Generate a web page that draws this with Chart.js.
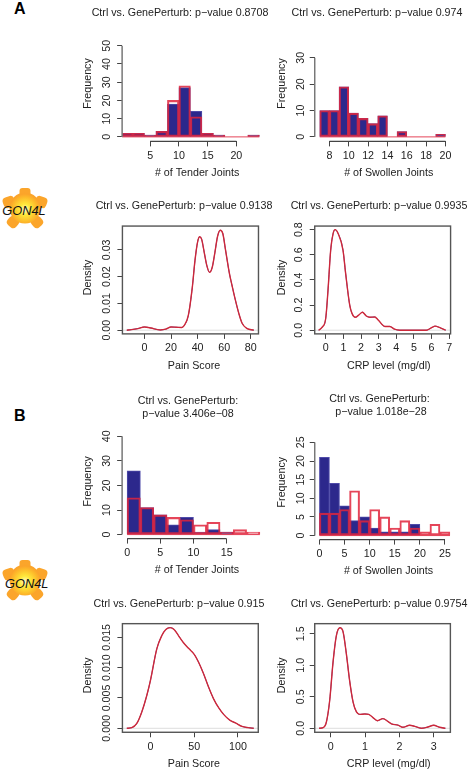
<!DOCTYPE html>
<html><head><meta charset="utf-8">
<style>
html,body{margin:0;padding:0;background:#fff;width:470px;height:772px;overflow:hidden;position:relative}
canvas{position:absolute}
.letter{position:absolute;font:bold 16px "Liberation Sans",Arial,sans-serif;color:#000}
.gene{position:absolute;left:0;width:60px;height:60px}
</style>
<script src="https://cdn.jsdelivr.net/npm/chart.js@4/dist/chart.umd.min.js"></script>
</head><body>
<div class="letter" style="left:14px;top:0px">A</div>
<div class="letter" style="left:14px;top:407px">B</div>
<svg class="gene" style="top:178px" viewBox="0 0 60 60"><use href="#sun"/><text x="24" y="36.5" font-family="Liberation Sans" font-style="italic" font-size="12.8" text-anchor="middle" fill="#111">GON4L</text></svg>
<svg class="gene" style="top:550px" viewBox="0 0 60 60"><use href="#sun"/><text x="26.7" y="37.5" font-family="Liberation Sans" font-style="italic" font-size="12.8" text-anchor="middle" fill="#111">GON4L</text></svg>
<svg width="0" height="0" style="position:absolute"><defs>
<radialGradient id="g" cx="50%" cy="55%" r="50%"><stop offset="0" stop-color="#fffbd0"/><stop offset=".35" stop-color="#ffe93a"/><stop offset=".8" stop-color="#fdb92a"/><stop offset="1" stop-color="#fba42a"/></radialGradient>
<g id="sun">
<g fill="#fba52b"><rect x="19.5" y="10" width="11" height="12" rx="3"/><rect x="3" y="18.5" width="12" height="11" rx="4" transform="rotate(-20 9 24)"/><rect x="35" y="18.5" width="12" height="11" rx="4" transform="rotate(20 41 24)"/><rect x="7.5" y="38.5" width="11" height="11" rx="4" transform="rotate(40 13 44)"/><rect x="31.5" y="38.5" width="11" height="11" rx="4" transform="rotate(-40 37 44)"/></g>
<circle cx="25" cy="30" r="15.5" fill="url(#g)"/></g></defs></svg>

<script>
// ---------- Panel A ----------
const tenderA_bins   = [1, 3, 5, 7, 9, 11, 13, 15, 17, 19, 21, 23];
const tenderA_ctrl   = [2, 2, 1, 3, 18, 27, 14, 2, 1, 0, 0, 1];
const tenderA_pert   = [2, 2, 1, 3, 20, 28, 11, 2, 1, 0, 0, 1];
const tenderA_xticks = ['5', '10', '15', '20'];
const tenderA_yticks = ['0', '10', '20', '30', '40', '50'];

const swollenA_bins   = [7.5, 8.5, 9.5, 10.5, 11.5, 12.5, 13.5, 14.5, 15.5, 16.5, 17.5, 18.5, 19.5];
const swollenA_ctrl   = [10, 10, 19, 9, 7, 5, 8, 0, 2, 0, 0, 0, 1];
const swollenA_pert   = [10, 10, 19, 9, 7, 5, 8, 0, 2, 0, 0, 0, 1];
const swollenA_xticks = ['8', '10', '12', '14', '16', '18', '20'];
const swollenA_yticks = ['0', '10', '20', '30'];

const painA_x = [-13.3, -10, -5, 0, 5, 10, 12, 16, 20, 24, 28, 30, 33, 36, 38, 40, 41.5, 43, 45, 47, 49, 51, 53, 55, 57, 59, 61, 64, 66, 68.4, 71, 73.5, 77, 82.3];
const painA_y = [0, .0002, .0006, .0012, .0008, .0002, .0001, .0004, .0012, .0011, .0010, .0018, .0055, .016, .026, .033, .0349, .034, .029, .024, .0216, .0235, .029, .035, .0373, .036, .030, .021, .0165, .0113, .0063, .0026, .0007, 0];
const painA_xticks = ['0', '20', '40', '60', '80'];
const painA_yticks = ['0.00', '0.01', '0.02', '0.03'];

const crpA_x = [-.4, -.2, 0, .13, .28, .42, .53, .7, .98, 1.13, 1.36, 1.5, 1.68, 1.87, 2.08, 2.3, 2.5, 2.78, 2.97, 3.35, 3.63, 3.9, 4.2, 5.7, 6, 6.2, 6.47, 6.8];
const crpA_y = [0, .024, .095, .32, .636, .77, .80, .77, .636, .45, .2, .13, .103, .12, .143, .113, .103, .105, .082, .03, .03, .008, 0, 0, .02, .032, .02, 0];
const crpA_xticks = ['0', '1', '2', '3', '4', '5', '6', '7'];
const crpA_yticks = ['0.0', '0.2', '0.4', '0.6', '0.8'];

// ---------- Panel B ----------
const tenderB_bins   = [1, 3, 5, 7, 9, 11, 13, 15, 17, 19];
const tenderB_ctrl   = [26, 11, 8, 4, 7, 1, 2, 1, 0, 0];
const tenderB_pert   = [15, 11, 8, 7, 6, 4, 5, 1, 2, 1];
const tenderB_xticks = ['0', '5', '10', '15'];
const tenderB_yticks = ['0', '10', '20', '30', '40'];

const swollenB_bins   = [1, 3, 5, 7, 9, 11, 13, 15, 17, 19, 21, 23, 25];
const swollenB_ctrl   = [21, 14, 8, 4, 5, 2, 1, 1, 1, 3, 0, 0, 0];
const swollenB_pert   = [6, 6, 7, 12, 4, 7, 5, 2, 4, 2, 1, 3, 1];
const swollenB_xticks = ['0', '5', '10', '15', '20', '25'];
const swollenB_yticks = ['0', '5', '10', '15', '20', '25'];

const painB_x = [-27, -21.4, -15.6, -9.9, -4.2, 0, 7.25, 13, 17.6, 22.5, 27, 32, 37.8, 43.5, 50, 55, 60.7, 66.4, 72, 77.9, 83.6, 91, 97, 104.6, 112, 118];
const painB_y = [0, .0001, .0008, .0027, .0054, .0079, .0131, .0153, .0163, .0166, .0163, .0153, .0141, .0132, .0122, .0109, .009, .0068, .0049, .0034, .0023, .0013, .0009, .0003, .0001, 0];
const painB_xticks = ['0', '50', '100'];
const painB_yticks = ['0.000', '0.005', '0.010', '0.015'];

const crpB_x = [-.34, -.22, -.126, -.03, .068, .165, .27, .36, .456, .55, .65, .75, .845, .99, 1.107, 1.23, 1.36, 1.52, 1.62, 1.77, 1.96, 2.1, 2.3, 2.45, 2.64, 2.83, 3, 3.17, 3.34];
const crpB_y = [0, .01, .1, .44, 1.05, 1.47, 1.595, 1.53, 1.18, .76, .42, .26, .22, .227, .22, .17, .12, .153, .127, .07, .05, .016, .048, .03, 0, .02, .048, .016, 0];
const crpB_xticks = ['0', '1', '2', '3'];
const crpB_yticks = ['0.0', '0.5', '1.0', '1.5'];

// ---------- Shared style ----------
const FONT = '"Liberation Sans", Arial, sans-serif';
const FS = 10.7, LH = 1.19;
const NAVY = 'rgb(44,40,140)', RED = 'rgba(224,36,60,0.85)', INK = '#222';

const rStyle = {
  id: 'rStyle',
  afterLayout(c) {
    const g = c.options.plugins.rStyle, x = c.scales.x, y = c.scales.y;
    // native titles sit where the reference places them, off the plot centre
    c.titleBlock.right = c.width;
    if (!x._shifted) {
      x._shifted = true;
      const dx = x.drawTitle, dy = y.drawTitle;
      x.drawTitle = function () { const r = x.right; x.right += 2 * g.xTitleDx; dx.call(x); x.right = r; };
      y.drawTitle = function () { const t = y.top; y.top += 2 * g.yTitleDy; dy.call(y); y.top = t; };
    }
  },
  beforeDraw(c) {
    c.scales.y.getLabelItems().forEach(it => { it.options.textAlign = 'center'; });
  },
  afterDraw(c) {
    const g = c.options.plugins.rStyle, x = c.scales.x, y = c.scales.y, a = c.chartArea, k = c.ctx;
    k.save();
    if (g.box) {
      k.strokeStyle = '#555'; k.lineWidth = 1.4;
      k.strokeRect(a.left, a.top, a.right - a.left, a.bottom - a.top);
    } else {
      k.strokeStyle = '#777'; k.lineWidth = 1.5;
      const yt = y.ticks, xt = x.ticks;
      k.beginPath();
      k.moveTo(a.left, y.getPixelForValue(yt[0].value));
      k.lineTo(a.left, y.getPixelForValue(yt[yt.length - 1].value));
      k.stroke();
      k.strokeStyle = '#444'; k.lineWidth = 1.1;
      k.beginPath();
      k.moveTo(x.getPixelForValue(xt[0].value), a.bottom);
      k.lineTo(x.getPixelForValue(xt[xt.length - 1].value), a.bottom);
      k.stroke();
    }
    k.restore();
  }
};

function axis(labels, min, max, o) {
  return Object.assign({
    type: 'linear', min, max, bounds: 'data', offset: false,
    grid: { display: true, offset: false, drawOnChartArea: false, drawTicks: true, tickLength: 5, tickColor: '#444', tickWidth: 1 },
    border: { display: false },
    afterBuildTicks: s => { s.ticks = labels.map(t => ({ value: Number(t) })); },
    ticks: { color: INK, font: { family: FONT, size: FS }, autoSkip: false, maxRotation: 0, minRotation: 0, padding: 4,
      callback: (v, i) => labels[i] }
  }, o);
}

function panel(p) {
  const cv = document.createElement('canvas');
  const L = p.yTitleX - FS * 0.6, n = p.title.length, titleH = n * FS * LH;
  const T = p.titleY - FS * LH / 2;
  const W = 2 * (p.titleCx - L);
  const B = p.xTitleY + FS * 0.6;
  cv.style.left = L + 'px'; cv.style.top = T + 'px';
  cv.width = Math.round(W); cv.height = Math.round(B - T);
  document.body.appendChild(cv);
  const xs = axis(p.xticks, p.xmin, p.xmax, {
    title: { display: true, text: p.xTitle, color: INK, font: { family: FONT, size: FS }, padding: 0 },
    afterFit: s => { s.height = B - p.bottom; }
  });
  xs.ticks.padding = 3;
  const ys = axis(p.yticks, p.ymin, p.ymax, {
    title: { display: true, text: p.yTitle, color: INK, font: { family: FONT, size: FS }, padding: 0 },
    afterFit: s => { s.width = p.left - L; }
  });
  ys.ticks.minRotation = 90; ys.ticks.maxRotation = 90;
  ys.ticks.padding = p.yTickPad;
  new Chart(cv, {
    data: { datasets: p.datasets },
    plugins: [rStyle],
    options: {
      responsive: false, animation: false, devicePixelRatio: 1,
      layout: { padding: { left: 0, top: 0, bottom: 0, right: L + W - p.right } },
      scales: { x: xs, y: ys },
      plugins: {
        legend: { display: false }, tooltip: { enabled: false },
        title: { display: true, text: p.title, color: INK,
          font: { family: FONT, size: FS, weight: 'normal', lineHeight: LH },
          padding: { top: 0, bottom: p.top - T - titleH } },
        rStyle: { box: !!p.box, xTitleDx: p.xTitleCx - (p.left + p.right) / 2, yTitleDy: p.yTitleCy - (p.top + p.bottom) / 2 }
      }
    }
  });
}

const pts = (xs, ys) => xs.map((x, i) => ({ x, y: ys[i] }));

function hist(bins, ctrl, pert, span) {
  const bar = { type: 'bar', grouped: false, barPercentage: 1, categoryPercentage: 1, borderSkipped: false };
  return [
    Object.assign({}, bar, { label: 'Ctrl', data: pts(bins, ctrl), backgroundColor: NAVY, borderColor: 'rgba(60,55,160,0.9)', borderWidth: 1, order: 3 }),
    Object.assign({}, bar, { label: 'GenePerturb', data: pts(bins, pert), backgroundColor: 'rgba(0,0,0,0)', borderColor: RED, borderWidth: 1.4, order: 2 }),
    { type: 'line', label: 'base', data: [{ x: span[0], y: 0 }, { x: span[1], y: 0 }], borderColor: RED, borderWidth: 1, pointRadius: 0, order: 1 }
  ];
}

function dens(xs, ys) {
  const line = { type: 'line', pointRadius: 0, cubicInterpolationMode: 'monotone', fill: false };
  return [
    { type: 'line', label: 'zero', data: [{ x: xs[0] - 100, y: 0 }, { x: xs[xs.length - 1] + 100, y: 0 }], borderColor: '#ddd', borderWidth: 1, pointRadius: 0, order: 3 },
    Object.assign({}, line, { label: 'Ctrl', data: pts(xs, ys), borderColor: 'rgb(60,40,130)', borderWidth: 0.9, order: 2 }),
    Object.assign({}, line, { label: 'GenePerturb', data: pts(xs, ys), borderColor: 'rgba(214,36,50,0.92)', borderWidth: 1.4, order: 1 })
  ];
}

// value at a pixel distance: scale ranges come from the tick calibration
function rng(v0, px0, pxPer, pxA, pxB) { return [v0 + (pxA - px0) / pxPer, v0 + (pxB - px0) / pxPer]; }

const T_A = 'Ctrl vs. GenePerturb: p\u2212value ';

{ // A: tender
  const [xmin, xmax] = rng(5, 150, 5.73, 122, 262);
  const [ymin, ymax] = [-(141.5 - 137) / 1.826, 50];
  panel({ title: [T_A + '0.8708'], titleCx: 179.7, titleY: 13.3, xTitle: '# of Tender Joints', xTitleCx: 196.8, xTitleY: 172.7,
    yTitle: 'Frequency', yTitleX: 88.3, yTitleCy: 83.5, left: 122, right: 262, top: 45.7, bottom: 141.5, xmin, xmax, ymin, ymax,
    xticks: tenderA_xticks, yticks: tenderA_yticks, yTickPad: 10, datasets: hist(tenderA_bins, tenderA_ctrl, tenderA_pert, [0, 24]) });
}
{ // A: swollen
  const [xmin, xmax] = rng(8, 329.7, 9.67, 315, 450);
  panel({ title: [T_A + '0.974'], titleCx: 377.3, titleY: 13.3, xTitle: '# of Swollen Joints', xTitleCx: 389, xTitleY: 172.7,
    yTitle: 'Frequency', yTitleX: 282.7, yTitleCy: 83.5, left: 315, right: 450, top: 57.7, bottom: 141.5, xmin, xmax, ymin: -(141.5 - 137) / 2.643, ymax: 30,
    xticks: swollenA_xticks, yticks: swollenA_yticks, yTickPad: 9, datasets: hist(swollenA_bins, swollenA_ctrl, swollenA_pert, [7, 20]) });
}
{ // A: pain
  const [xmin, xmax] = rng(0, 144.3, 1.325, 122.3, 258);
  const [ymin, ymax] = rng(0, 330.3, -2690, 334, 225.7);
  panel({ title: [T_A + '0.9138'], titleCx: 183.7, titleY: 206, xTitle: 'Pain Score', xTitleCx: 193.7, xTitleY: 365.7,
    yTitle: 'Density', yTitleX: 88.3, yTitleCy: 277.3, left: 122.3, right: 258, top: 225.7, bottom: 334, xmin, xmax, ymin, ymax, box: true,
    xticks: painA_xticks, yticks: painA_yticks, yTickPad: 10, datasets: dens(painA_x, painA_y) });
}
{ // A: CRP
  const [xmin, xmax] = rng(0, 326, 17.62, 315, 450.7);
  const [ymin, ymax] = rng(0, 330.3, -126.25, 334, 225.7);
  panel({ title: [T_A + '0.9935'], titleCx: 379.2, titleY: 206, xTitle: 'CRP level (mg/dl)', xTitleCx: 389, xTitleY: 365.7,
    yTitle: 'Density', yTitleX: 282.7, yTitleCy: 277.3, left: 315, right: 450.7, top: 225.7, bottom: 334, xmin, xmax, ymin, ymax, box: true,
    xticks: crpA_xticks, yticks: crpA_yticks, yTickPad: 11, datasets: dens(crpA_x, crpA_y) });
}
{ // B: tender
  const [xmin, xmax] = rng(0, 127, 6.65, 122, 262);
  panel({ title: ['Ctrl vs. GenePerturb:', 'p\u2212value 3.406e\u221208'], titleCx: 188, titleY: 401.7, xTitle: '# of Tender Joints', xTitleCx: 197, xTitleY: 570,
    yTitle: 'Frequency', yTitleX: 88.3, yTitleCy: 481.7, left: 122, right: 262, top: 436.7, bottom: 539, xmin, xmax, ymin: -(539 - 535) / 2.458, ymax: 40,
    xticks: tenderB_xticks, yticks: tenderB_yticks, yTickPad: 10, datasets: hist(tenderB_bins, tenderB_ctrl, tenderB_pert, [0, 20]) });
}
{ // B: swollen
  const [xmin, xmax] = rng(0, 319.7, 5.04, 315, 451);
  panel({ title: ['Ctrl vs. GenePerturb:', ' p\u2212value 1.018e\u221228'], titleCx: 380, titleY: 399, xTitle: '# of Swollen Joints', xTitleCx: 389, xTitleY: 570,
    yTitle: 'Frequency', yTitleX: 282.7, yTitleCy: 481.7, left: 315, right: 451, top: 442, bottom: 539, xmin, xmax, ymin: -(539 - 535) / 3.72, ymax: 25,
    xticks: swollenB_xticks, yticks: swollenB_yticks, yTickPad: 9, datasets: hist(swollenB_bins, swollenB_ctrl, swollenB_pert, [0, 26]) });
}
{ // B: pain
  const [xmin, xmax] = rng(0, 150.3, 0.874, 122.3, 258);
  const [ymin, ymax] = rng(0, 728, -6067, 732, 623.3);
  panel({ title: ['Ctrl vs. GenePerturb: p\u2212value 0.915'], titleCx: 178.8, titleY: 604, xTitle: 'Pain Score', xTitleCx: 193.7, xTitleY: 763.3,
    yTitle: 'Density', yTitleX: 88.3, yTitleCy: 675, left: 122.3, right: 258, top: 623.3, bottom: 732, xmin, xmax, ymin, ymax, box: true,
    xticks: painB_xticks, yticks: painB_yticks, yTickPad: 10, datasets: dens(painB_x, painB_y) });
}
{ // B: CRP
  const [xmin, xmax] = rng(0, 331, 34.33, 315, 450.7);
  const [ymin, ymax] = rng(0, 728, -63.1, 732, 623.3);
  panel({ title: [T_A + '0.9754'], titleCx: 379.3, titleY: 604, xTitle: 'CRP level (mg/dl)', xTitleCx: 389, xTitleY: 763.3,
    yTitle: 'Density', yTitleX: 282.7, yTitleCy: 675, left: 315, right: 450.7, top: 623.3, bottom: 732, xmin, xmax, ymin, ymax, box: true,
    xticks: crpB_xticks, yticks: crpB_yticks, yTickPad: 9, datasets: dens(crpB_x, crpB_y) });
}
</script>
</body></html>
